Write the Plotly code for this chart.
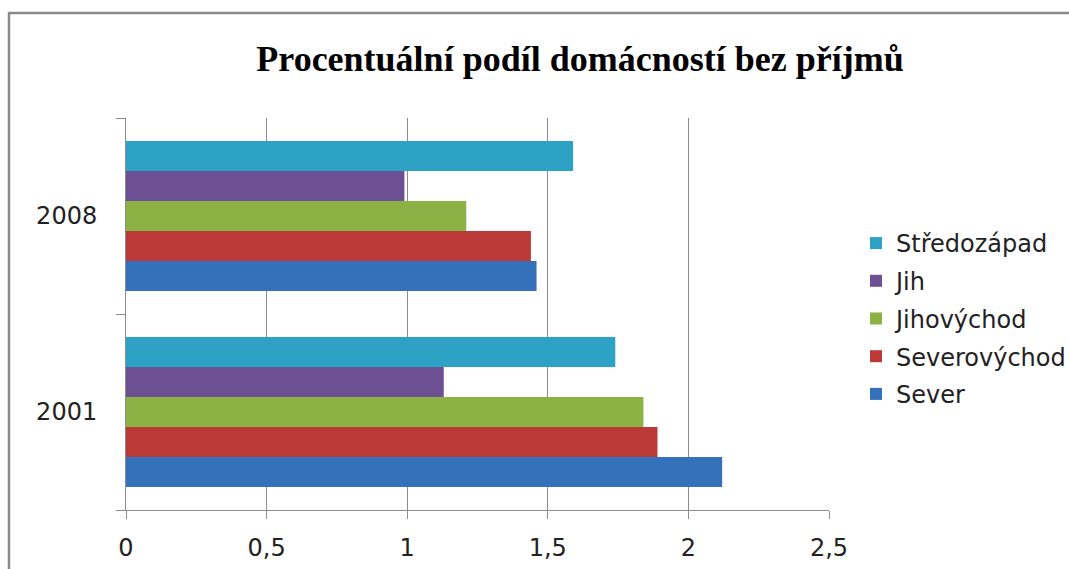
import plotly.graph_objects as go

years = ["2001", "2008"]
series_names = ["Sever", "Severovýchod", "Jihovýchod", "Jih", "Středozápad"]
sever = [2.12, 1.46]
severovychod = [1.89, 1.44]
jihovychod = [1.84, 1.21]
jih = [1.13, 0.99]
stredozapad = [1.74, 1.59]
colors = ["#3570bb", "#bb3a37", "#8cb145", "#6d5093", "#2ea2c5"]
x_ticks = [0, 0.5, 1, 1.5, 2, 2.5]

W, H = 1069, 569
L, R, T, B = 126, 829, 118, 510
FONT = "DejaVu Sans"

fig = go.Figure()
series_vals = [sever, severovychod, jihovychod, jih, stredozapad]
for i, (name, vals, col) in enumerate(zip(series_names, series_vals, colors)):
    fig.add_trace(go.Bar(
        y=years, x=vals, name=name, orientation="h",
        marker=dict(color=col, line=dict(width=0)),
        legendgroup=name, legendrank=len(series_names) - i,
    ))

pw, ph = R - L, B - T
fig.add_shape(type="rect", xref="paper", yref="paper",
              x0=(9 - L) / pw, x1=1.6, y0=-0.5, y1=1 + (T - 13) / ph,
              line=dict(color="#8a8a8a", width=2.5), layer="below")

fig.update_layout(
    width=W, height=H,
    margin=dict(l=L, r=W - R, t=T, b=H - B, pad=0, autoexpand=False),
    paper_bgcolor="white", plot_bgcolor="white",
    separators=", ",
    barmode="group", bargap=0.235, bargroupgap=0,
    title=dict(text="<b>Procentuální podíl domácností bez příjmů</b>",
               font=dict(family="Liberation Serif", size=36, color="black"),
               x=580 / W, xanchor="center", y=1 - 58 / H, yanchor="middle"),
    legend=dict(traceorder="grouped", xref="container", yref="container",
                x=856 / W, xanchor="left", y=1 - 221 / H, yanchor="top",
                font=dict(family=FONT, size=24, color="#222"),
                tracegroupgap=3.5, bgcolor="rgba(0,0,0,0)"),
    xaxis=dict(range=[0, 2.5], tickvals=x_ticks, showgrid=True, gridcolor="#8c8c8c", gridwidth=1,
               showline=True, linecolor="#8c8c8c", linewidth=1, ticks="outside", ticklen=8,
               tickcolor="#8c8c8c", zeroline=False,
               tickfont=dict(family=FONT, size=24, color="#222"), ticklabelstandoff=8),
    yaxis=dict(type="category", categoryorder="array", categoryarray=years,
               showline=True, linecolor="#8c8c8c", linewidth=1, ticks="outside", ticklen=9,
               tickcolor="#8c8c8c", tickson="boundaries", showgrid=False,
               tickfont=dict(family=FONT, size=24, color="#222"), ticklabelstandoff=23),
)

fig.write_html("out.html", config={"displayModeBar": False},
               post_script="document.body.style.margin='0';")
